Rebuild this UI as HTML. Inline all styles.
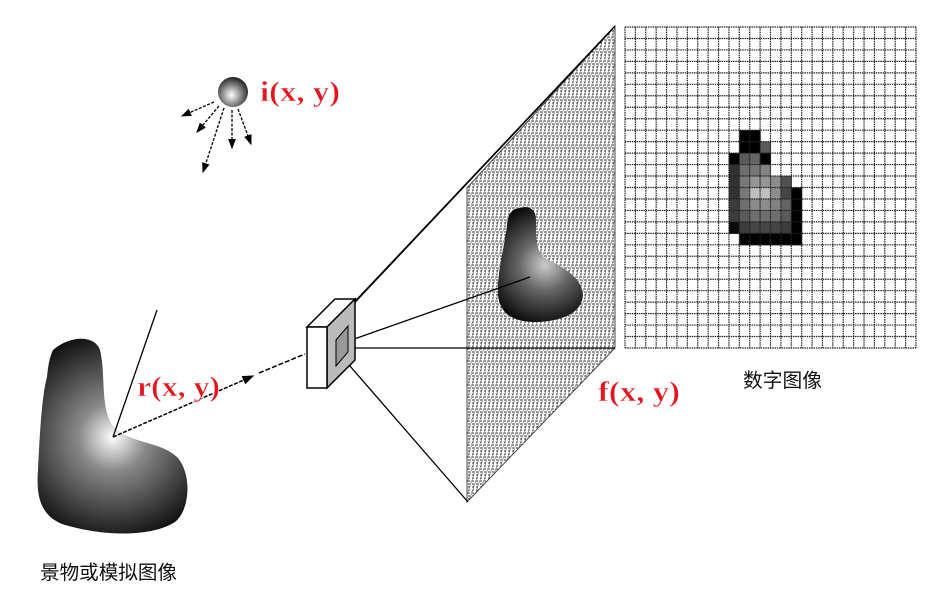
<!DOCTYPE html>
<html><head><meta charset="utf-8"><style>
html,body{margin:0;padding:0;background:#fff}
svg{display:block}
.lbl{font-family:"Liberation Serif","Noto Serif CJK SC",serif;font-weight:bold;font-size:28px;fill:#e8141c;stroke:#fff;stroke-width:0.5}
.cn{font-family:"Liberation Sans","Noto Sans CJK SC",sans-serif;font-size:19.5px;fill:#111}
</style></head><body>
<svg id="s" width="950" height="605" viewBox="0 0 950 605" xmlns="http://www.w3.org/2000/svg">
<defs>
<radialGradient id="sun" cx="0.45" cy="0.6" r="0.6"><stop offset="0" stop-color="#fff"/><stop offset="1" stop-color="#222"/></radialGradient>
<radialGradient id="obj" gradientUnits="userSpaceOnUse" cx="113" cy="437" r="115"><stop offset="0" stop-color="#fff"/><stop offset="0.3" stop-color="#888"/><stop offset="1" stop-color="#000"/></radialGradient>
<radialGradient id="obj2" gradientUnits="userSpaceOnUse" cx="545" cy="265" r="65"><stop offset="0" stop-color="#ccc"/><stop offset="0.4" stop-color="#666"/><stop offset="1" stop-color="#000"/></radialGradient>
<pattern id="hatch" width="4" height="12" patternUnits="userSpaceOnUse"><line x1="1" y1="0" x2="1" y2="12" stroke="#333" stroke-width="1" stroke-dasharray="2 1"/><line x1="0" y1="12" x2="4" y2="0" stroke="#666" stroke-width="0.6"/></pattern>
<marker id="ar" markerWidth="8" markerHeight="8" refX="7" refY="4" orient="auto"><path d="M0,1 L8,4 L0,7 z" fill="#000"/></marker>
</defs>

<circle cx="233" cy="92" r="15" fill="url(#sun)"/>
<g stroke="#000" stroke-width="1.3" stroke-dasharray="3 1.5" marker-end="url(#ar)">
<line x1="214" y1="102" x2="182" y2="116"/>
<line x1="219" y1="106" x2="197" y2="132"/>
<line x1="224" y1="108" x2="203" y2="172"/>
<line x1="232" y1="110" x2="232" y2="148"/>
<line x1="238" y1="109" x2="251" y2="144"/>
</g>
<text x="260" y="101" class="lbl" textLength="80" lengthAdjust="spacingAndGlyphs">i(x, y)</text>

<path d="M53,350 C70,335 95,335 100,350 C106,375 100,405 112,425 C130,445 160,440 178,458 C192,475 190,510 175,522 C150,538 100,536 62,524 C40,515 36,495 38,470 C40,430 42,395 47,377 C48,365 50,356 53,350 Z" fill="url(#obj)"/>
<line x1="113" y1="437" x2="157" y2="310" stroke="#000" stroke-width="1.3"/>
<line x1="113" y1="437" x2="253" y2="376" stroke="#000" stroke-width="1.5" stroke-dasharray="4 1.5" marker-end="url(#ar)"/>
<line x1="259" y1="373" x2="305" y2="354" stroke="#000" stroke-width="1.5" stroke-dasharray="5 2"/>
<text x="137" y="396" class="lbl" textLength="83" lengthAdjust="spacingAndGlyphs">r(x, y)</text>
<text x="40" y="579" class="cn" textLength="137" lengthAdjust="spacingAndGlyphs">景物或模拟图像</text>

<polygon points="467,188 615,26 615,348 467,502" fill="url(#hatch)" stroke="#444" stroke-width="1"/>
<path d="M520,208 C530,205 536,210 536,220 C536,235 535,250 545,258 C565,268 582,278 583,295 C582,312 565,320 540,322 C515,323 500,315 498,295 C497,270 505,245 507,225 C508,213 512,209 520,208 Z" fill="url(#obj2)"/>
<g stroke="#000" stroke-width="1.3">
<line x1="345" y1="312" x2="615" y2="26"/>
<line x1="350" y1="308" x2="612" y2="30" stroke-width="0.8"/>
<line x1="343" y1="348" x2="615" y2="348"/>
<line x1="343" y1="358" x2="468" y2="502"/>
<line x1="343" y1="343" x2="530" y2="277"/>
</g>
<text x="598" y="401" class="lbl" textLength="82" lengthAdjust="spacingAndGlyphs">f(x, y)</text>

<g stroke="#000" stroke-width="1.5">
<polygon points="307,327 335,299 355,299 327,327" fill="#fff"/>
<polygon points="327,327 355,299 355,360 327,388" fill="#bbb"/>
<rect x="307" y="327" width="20" height="61" fill="#fff"/>
<polygon points="336,340 348,326 348,352 336,366" fill="#999" stroke-width="1"/>
</g>

<g id="dg"></g>
<text x="743" y="387" class="cn" textLength="79" lengthAdjust="spacingAndGlyphs">数字图像</text>
</svg>
<script>
const gx0=625,gy0=27,gx1=916,gy1=348,cols=28,rows=28;
const cellRows=[9,9,10,10,10,11,11,11,11,12,12,12,12,13,13,13,13,13,13,14,14,14,14,14,14,14,15,15,15,15,15,15,15,16,16,16,16,16,16,16,17,17,17,17,17,17,17,18,18,18,18,18,18];
const cellCols=[11,12,11,12,13,10,11,12,13,10,11,12,13,10,11,12,13,14,15,10,11,12,13,14,15,16,10,11,12,13,14,15,16,10,11,12,13,14,15,16,10,11,12,13,14,15,16,11,12,13,14,15,16];
const cellVals=[0,0,0,0,90,0,90,100,0,50,110,120,130,50,120,150,150,140,80,50,120,190,190,140,70,0,60,110,140,140,130,100,0,60,90,110,110,110,90,0,10,60,70,70,70,60,0,0,0,0,0,0,0];
const g=document.getElementById('dg');
const NS='http://www.w3.org/2000/svg';
const cw=(gx1-gx0)/cols,ch=(gy1-gy0)/rows;
for(let i=0;i<cellVals.length;i++){
  const r=document.createElementNS(NS,'rect');
  
  
  r.setAttribute('x',gx0+cellCols[i]*cw);r.setAttribute('y',gy0+cellRows[i]*ch);
  r.setAttribute('width',cw+0.5);r.setAttribute('height',ch+0.5);
  const v=cellVals[i];r.setAttribute('fill','rgb('+v+','+v+','+v+')');
  g.appendChild(r);
}
for(let i=0;i<=cols;i++){
  const l=document.createElementNS(NS,'line');
  
  
  const x=gx0+i*cw;l.setAttribute('x1',x);l.setAttribute('x2',x);l.setAttribute('y1',gy0);l.setAttribute('y2',gy1);
  l.setAttribute('stroke','#222');l.setAttribute('stroke-width','1.2');l.setAttribute('stroke-dasharray','1.5 0.8');
  g.appendChild(l);
}
for(let j=0;j<=rows;j++){
  const l=document.createElementNS(NS,'line');
  
  
  const y=gy0+j*ch;l.setAttribute('y1',y);l.setAttribute('y2',y);l.setAttribute('x1',gx0);l.setAttribute('x2',gx1);
  l.setAttribute('stroke','#222');l.setAttribute('stroke-width','1.2');l.setAttribute('stroke-dasharray','1.5 0.8');
  g.appendChild(l);
}
</script>
</body></html>
